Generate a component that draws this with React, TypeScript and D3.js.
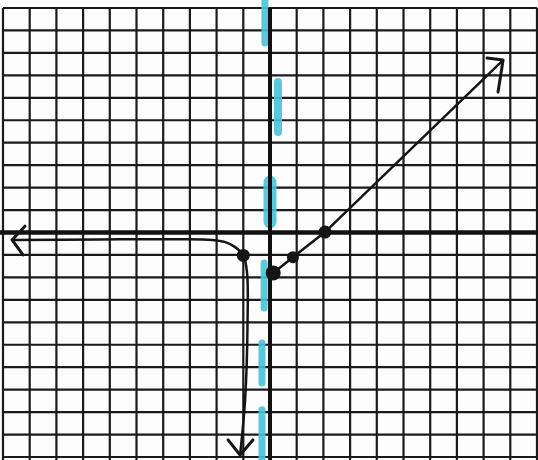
import React from "react";
import * as d3 from "d3";

const W = 538;
const H = 460;

// Grid runs from -10 to 10 on both axes, one line per unit
const gridTicks = d3.range(-10, 11);

// Left branch: levels off near y = -0.3 to the left, bends through (-1,-1), then drops
const leftBranch: [number, number][] = [
  [-9.66, -0.33],
  [-6.4, -0.31],
  [-3.5, -0.3],
  [-2.15, -0.33],
  [-1.7, -0.42],
  [-1.32, -0.64],
  [-1.0, -1.02],
  [-0.86, -1.8],
  [-0.84, -3.9],
  [-0.93, -7.4],
  [-1.12, -9.91],
];

// Right branch: straight ray up from near (0,-2) through (1,-1) and (2,0)
const rightBranch: [number, number][] = [
  [0.12, -1.8],
  [0.86, -1.1],
  [2.06, 0.02],
  [8.73, 7.68],
];

// Plotted points on the curve
const dots: { x: number; y: number; r: number }[] = [
  { x: -1.0, y: -1.02, r: 6.5 },
  { x: 0.12, y: -1.8, r: 7.5 },
  { x: 0.86, y: -1.1, r: 6 },
  { x: 2.06, y: 0.02, r: 6.5 },
];

// Arrowheads: arm end, tip, arm end
const arrowHeads: [number, number][][] = [
  [[-9.18, 0.28], [-9.66, -0.33], [-9.25, -1.0]],
  [[-1.57, -9.24], [-1.12, -9.91], [-0.64, -9.24]],
  [[8.13, 7.77], [8.73, 7.68], [8.54, 6.26]],
];

// Hand-drawn dashed asymptote near x = 0: [x, yTop, yBottom, pen width]
const asymptoteDashes: [number, number, number, number][] = [
  [-0.19, 10.36, 8.44, 7],
  [0.3, 6.7, 4.48, 8],
  [0.0, 2.25, 0.47, 13],
  [-0.22, -1.36, -3.36, 7],
  [-0.3, -4.92, -6.7, 7],
  [-0.3, -7.9, -10.15, 7],
];

export default function App() {
  const x = d3.scaleLinear().domain([-10, 10]).range([3, 537]);
  const y = d3.scaleLinear().domain([-10, 10]).range([457, 8]);

  const line = d3
    .line<[number, number]>()
    .x((d) => x(d[0]))
    .y((d) => y(d[1]))
    .curve(d3.curveCatmullRom.alpha(0.5));

  const straight = d3
    .line<[number, number]>()
    .x((d) => x(d[0]))
    .y((d) => y(d[1]));

  const ink = "#151515";

  return (
    <svg
      width={W}
      height={H}
      viewBox={`0 0 ${W} ${H}`}
      style={{ position: "absolute", left: 0, top: 0, background: "#fff" }}
    >
      <rect x={0} y={0} width={W} height={H} fill="#fdfdfd" />

      {/* grid */}
      <g stroke="#1a1a1a" strokeWidth={2.2}>
        {gridTicks.map((t) => (
          <line key={`v${t}`} x1={x(t)} x2={x(t)} y1={y(10)} y2={H} />
        ))}
        {gridTicks.map((t) => (
          <line key={`h${t}`} x1={x(-10)} x2={x(10)} y1={y(t)} y2={y(t)} />
        ))}
      </g>

      {/* asymptote */}
      <g stroke="#4cc3d6" strokeLinecap="round" opacity={0.9}>
        {asymptoteDashes.map(([dx, y0, y1, w], i) => (
          <line key={i} x1={x(dx)} x2={x(dx)} y1={y(y0)} y2={y(y1)} strokeWidth={w} />
        ))}
      </g>

      {/* axes */}
      <line x1={0} x2={W} y1={y(0)} y2={y(0)} stroke="#111" strokeWidth={4.5} />
      <line x1={x(0)} x2={x(0)} y1={y(10)} y2={H} stroke="#111" strokeWidth={4} />

      {/* graph */}
      <path d={line(leftBranch) ?? ""} fill="none" stroke={ink} strokeWidth={2.5} />
      <path d={straight(rightBranch) ?? ""} fill="none" stroke={ink} strokeWidth={2.5} />
      {arrowHeads.map((a, i) => (
        <path
          key={i}
          d={straight(a) ?? ""}
          fill="none"
          stroke={ink}
          strokeWidth={3}
          strokeLinecap="round"
          strokeLinejoin="round"
        />
      ))}
      {dots.map((d, i) => (
        <circle key={i} cx={x(d.x)} cy={y(d.y)} r={d.r} fill={ink} />
      ))}
    </svg>
  );
}
